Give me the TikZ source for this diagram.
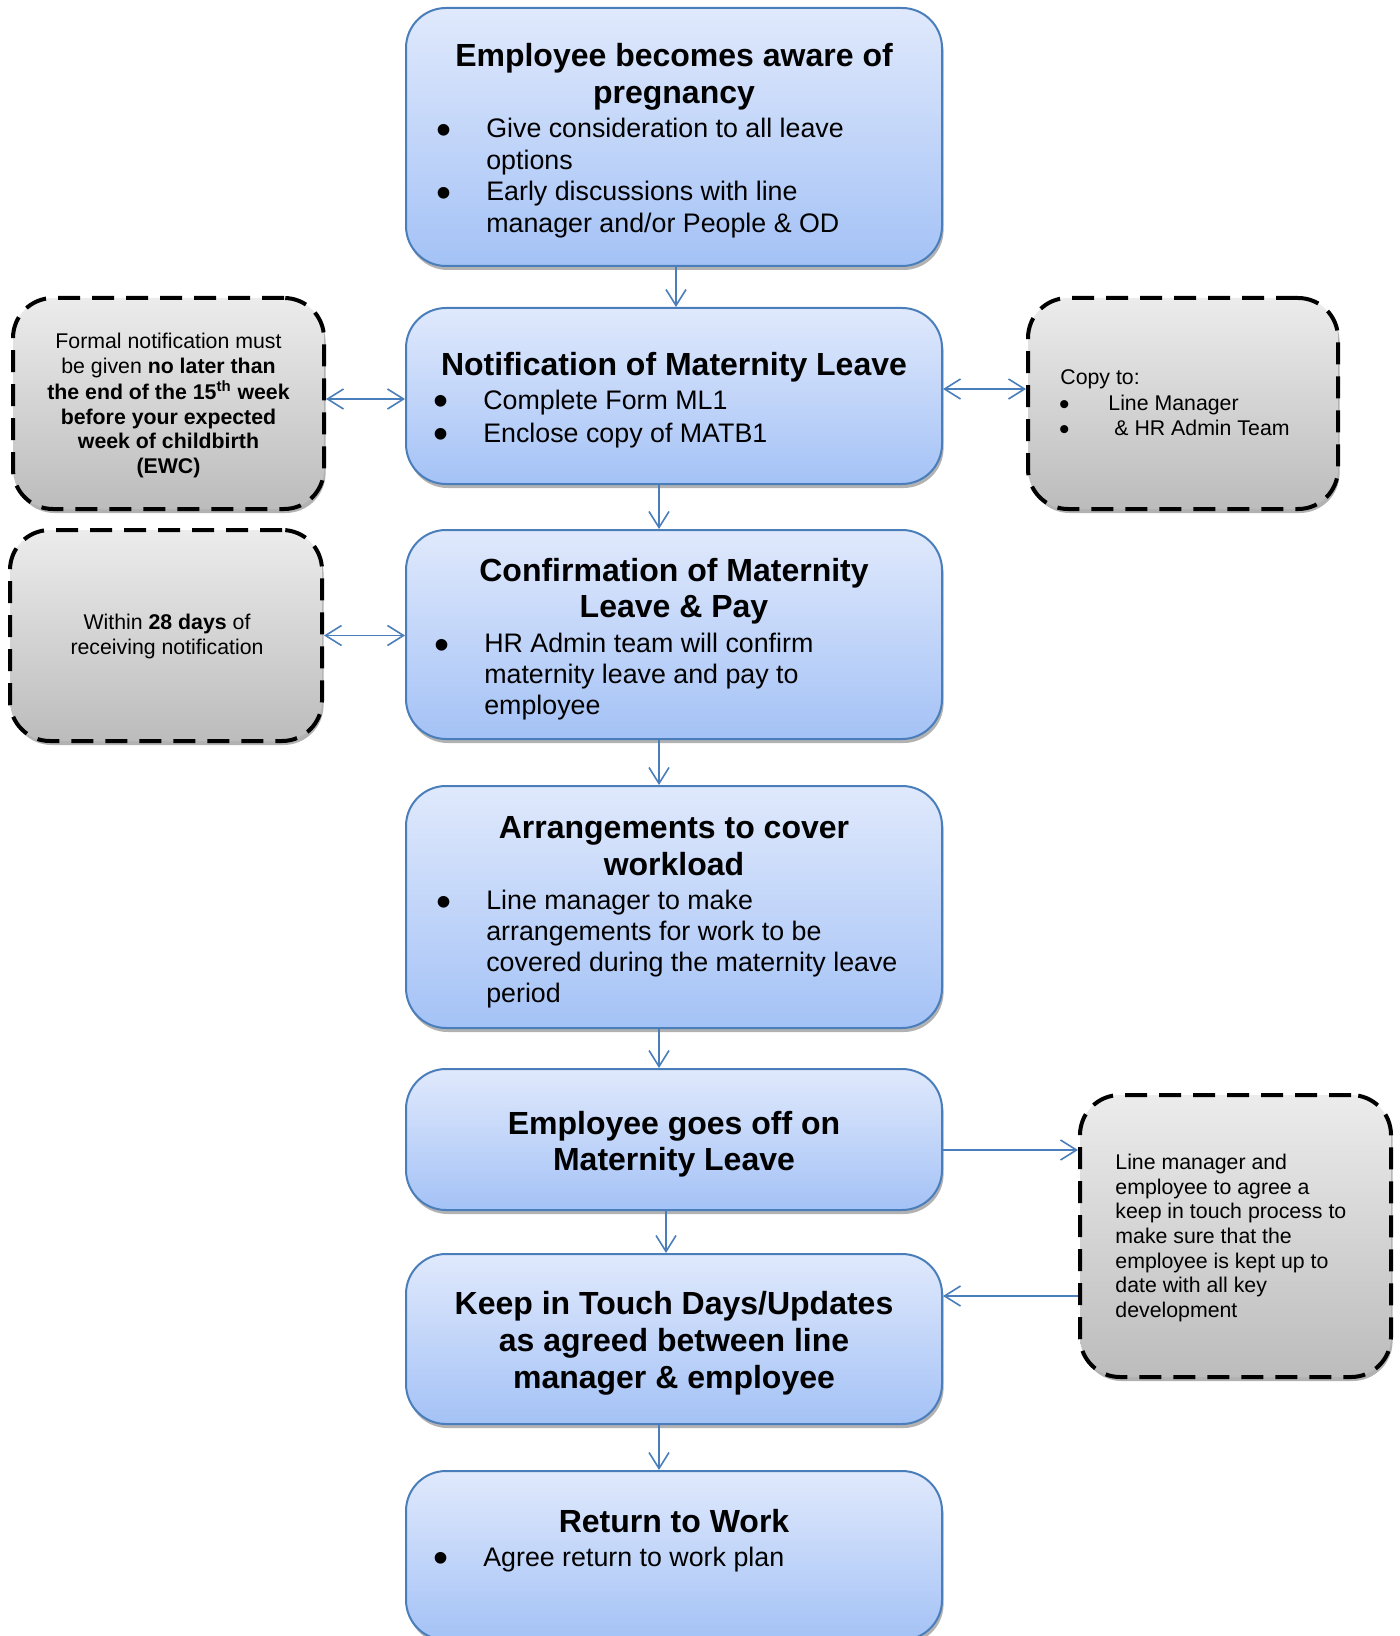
\documentclass[tikz,border=0pt]{standalone}
\usepackage{fontspec}
\setmainfont{Liberation Sans}
\usetikzlibrary{arrows.meta,calc,shadows}
\definecolor{bord}{HTML}{4A7EBB}
\definecolor{btop}{RGB}{224,233,252}
\definecolor{bbot}{RGB}{164,194,246}
\definecolor{gtop}{RGB}{236,236,236}
\definecolor{gbot}{RGB}{188,188,188}
\newcommand\bl{\makebox[24.7pt][l]{\smash{\raisebox{-3.4pt}{\scalebox{1.6}{\textbullet}}}}}
\newcommand\gb{\makebox[24.6pt][l]{\smash{\raisebox{-1.9pt}{\scalebox{1.4}{\textbullet}}}}}
\tikzset{
 mainbox/.style={draw=bord, line width=1pt, rounded corners=20pt, top color=btop, bottom color=bbot,
   minimum width=268pt, inner sep=0pt,
   drop shadow={shadow xshift=0.8pt, shadow yshift=-2pt, opacity=0.3, fill=black}},
 greybox/.style={draw=black, line width=2pt, dash pattern=on 11pt off 6pt, rounded corners=20pt,
   top color=gtop, bottom color=gbot, inner sep=0pt,
   drop shadow={shadow xshift=0.8pt, shadow yshift=-2pt, opacity=0.3, fill=black}},
 ttl/.style={anchor=base, inner sep=0pt, font=\fontsize{16}{18.4}\selectfont\bfseries},
 bdy/.style={anchor=base west, inner sep=0pt, font=\fontsize{13.4}{15.5}\selectfont},
 gtxt/.style={inner sep=0pt, font=\fontsize{10.65}{12.3}\selectfont},
 arr/.style={draw=bord, line width=0.8pt, -{Straight Barb[length=8pt,width=10pt]}},
 darr/.style={draw=bord, line width=0.8pt, {Straight Barb[length=8pt,width=10pt]}-{Straight Barb[length=8pt,width=10pt]}},
}
\begin{document}
\begin{tikzpicture}[x=0.5pt,y=-0.5pt]
\useasboundingbox (0,0) rectangle (1400,1636);

% main boxes
\node[mainbox, minimum height=129pt] (b1) at (674,137) {};
\node[mainbox, minimum height=88pt] (b2) at (674,396) {};
\node[mainbox, minimum height=104.5pt] (b3) at (674,634.5) {};
\node[mainbox, minimum height=121pt] (b4) at (674,907) {};
\node[mainbox, minimum height=70.5pt] (b5) at (674,1139.5) {};
\node[mainbox, minimum height=85pt] (b6) at (674,1339) {};
\node[mainbox, minimum height=84.5pt] (b7) at (674,1555.5) {};

% grey boxes
\node[greybox, minimum width=155.5pt, minimum height=105.5pt] (l1) at (168.5,403.5) {};
\node[greybox, minimum width=156pt, minimum height=105.5pt] (l2) at (166,635.5) {};
\node[greybox, minimum width=155pt, minimum height=105.5pt] (r1) at (1183,403.5) {};
\node[greybox, minimum width=155.5pt, minimum height=141pt] (r2) at (1235.5,1236) {};

% texts of main boxes
\node[ttl] (t1) at (674,66.8) {\begin{tabular}[t]{@{}c@{}}Employee becomes aware of\\pregnancy\end{tabular}};
\node[bdy, font=\fontsize{13.4}{15.8}\selectfont] (t1b) at (436.5,137.5) {\begin{tabular}[t]{@{}l@{}l@{}}\bl&Give consideration to all leave\\ &options\\ \bl&Early discussions with line\\ &manager and/or People \& OD\end{tabular}};

\node[ttl] (t2) at (674,375.5) {Notification of Maternity Leave};
\node[bdy] (t2b) at (433.5,409.1) {\begin{tabular}[t]{@{}l@{}l@{}}\bl&Complete Form ML1\\[1pt] \bl&Enclose copy of MATB1\end{tabular}};

\node[ttl] (t3) at (674,581.1) {\begin{tabular}[t]{@{}c@{}}Confirmation of Maternity\\Leave \& Pay\end{tabular}};
\node[bdy] (t3b) at (434.5,652.2) {\begin{tabular}[t]{@{}l@{}l@{}}\bl&HR Admin team will confirm\\ &maternity leave and pay to\\ &employee\end{tabular}};

\node[ttl] (t4) at (674,838.5) {\begin{tabular}[t]{@{}c@{}}Arrangements to cover\\workload\end{tabular}};
\node[bdy] (t4b) at (436.5,909.6) {\begin{tabular}[t]{@{}l@{}l@{}}\bl&Line manager to make\\ &arrangements for work to be\\ &covered during the maternity leave\\ &period\end{tabular}};

\node[ttl] (t5) at (674,1134) {\begin{tabular}[t]{@{}c@{}}Employee goes off on\\Maternity Leave\end{tabular}};
\node[ttl] (t6) at (674,1314.5) {\begin{tabular}[t]{@{}c@{}}Keep in Touch Days/Updates\\as agreed between line\\manager \& employee\end{tabular}};
\node[ttl] (t7) at (674,1532.5) {Return to Work};
\node[bdy] (t7b) at (433.5,1566.1) {\bl Agree return to work plan};

% texts of grey boxes
\node[gtxt, anchor=base] (tl1) at (168.5,348.7) {\begin{tabular}[t]{@{}c@{}}Formal notification must\\be given \textbf{no later than}\\\textbf{the end of the 15\textsuperscript{th} week}\\\textbf{before your expected}\\\textbf{week of childbirth}\\\textbf{(EWC)}\end{tabular}};
\node[gtxt, anchor=base] (tl2) at (167,629.7) {\begin{tabular}[t]{@{}c@{}}Within \textbf{28 days} of\\receiving notification\end{tabular}};
\node[gtxt, anchor=base west] (tr1) at (1058.8,384.7) {\begin{tabular}[t]{@{}l@{}l@{}}\multicolumn{2}{@{}l@{}}{\hspace{0.6pt}Copy to:}\\[0.5pt]\gb&Line Manager\\[0.5pt] \gb&\hspace{3pt}\& HR Admin Team\end{tabular}};
\node[gtxt, anchor=base west] (tr2) at (1115,1169.7) {\begin{tabular}[t]{@{}l@{}}Line manager and\\employee to agree a\\keep in touch process to\\make sure that the\\employee is kept up to\\date with all key\\development\end{tabular}};

% vertical connectors
\draw[arr] ($(b1.south)+(2,0)$) -- ($(b2.north)+(2,0)$);
\draw[arr] ($(b2.south)+(-15,0)$) -- ($(b3.north)+(-15,0)$);
\draw[arr] ($(b3.south)+(-15,0)$) -- ($(b4.north)+(-15,0)$);
\draw[arr] ($(b4.south)+(-15,0)$) -- ($(b5.north)+(-15,0)$);
\draw[arr] ($(b5.south)+(-8,0)$) -- ($(b6.north)+(-8,0)$);
\draw[arr] ($(b6.south)+(-15,0)$) -- ($(b7.north)+(-15,0)$);

% horizontal connectors
\coordinate (p1) at ($(l1.east)+(0,-4.5)$);
\draw[darr] (p1) -- (p1 -| b2.west);
\draw[darr] (l2.east) -- (l2.east -| b3.west);
\coordinate (p2) at ($(b2.east)+(0,-7)$);
\draw[darr] (p2) -- (p2 -| r1.west);
\coordinate (p3) at ($(b5.east)+(0,10.5)$);
\draw[arr] (p3) -- (p3 -| r2.west);
\coordinate (p4) at ($(r2.west)+(0,60)$);
\draw[arr] (p4) -- (p4 -| b6.east);
\end{tikzpicture}
\end{document}
